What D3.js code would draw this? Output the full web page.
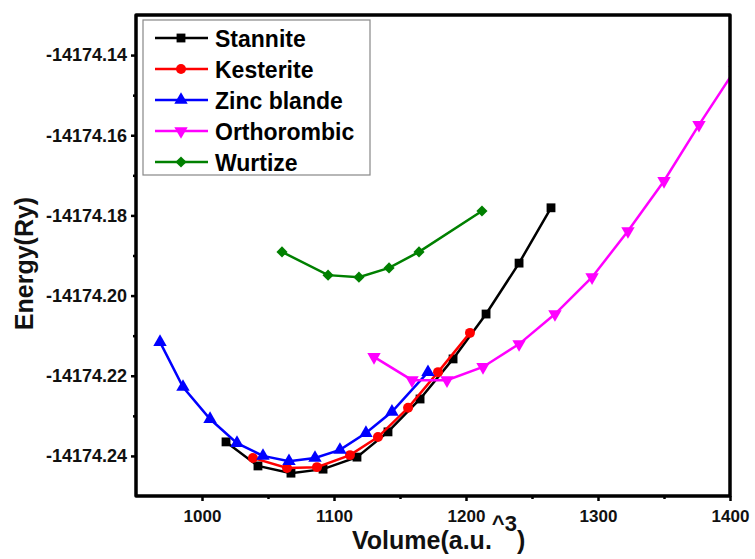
<!DOCTYPE html>
<html><head><meta charset="utf-8">
<script src="https://cdn.jsdelivr.net/npm/d3@7/dist/d3.min.js"></script>
<style>html,body{margin:0;padding:0;background:#fff;}svg{display:block;font-family:"Liberation Sans",Arial,sans-serif;}</style>
</head><body>
<script>
const seriesNames = ["Stannite","Kesterite","Zinc blande","Orthorombic","Wurtize"];
const stanniteV = [1018.2,1042.4,1067.4,1091.7,1117.4,1140.9,1165.2,1190.2,1215.2,1240.2,1264.4];
const stanniteE = [-14174.2365,-14174.2425,-14174.2443,-14174.2433,-14174.2403,-14174.2340,-14174.2258,-14174.2158,-14174.2046,-14174.1919,-14174.1781];
const kesteriteV = [1038.6,1064.4,1087.1,1112.1,1133.3,1156.1,1178.8,1203.0];
const kesteriteE = [-14174.2405,-14174.2430,-14174.2428,-14174.2398,-14174.2353,-14174.2280,-14174.2191,-14174.2093];
const zincV = [968.2,985.6,1006.1,1026.5,1046.2,1065.9,1085.6,1104.5,1124.2,1143.9,1171.2];
const zincE = [-14174.2116,-14174.2228,-14174.2308,-14174.2368,-14174.2400,-14174.2413,-14174.2405,-14174.2385,-14174.2343,-14174.2290,-14174.2191];
const orthoV = [1130.3,1159.1,1185.6,1212.9,1240.2,1267.4,1295.5,1322.7,1350.0,1376.5,1403.8];
const orthoE = [-14174.2153,-14174.2211,-14174.2211,-14174.2178,-14174.2121,-14174.2046,-14174.1954,-14174.1839,-14174.1714,-14174.1574,-14174.1437];
const wurtzV = [1060.6,1095.5,1118.9,1141.7,1164.4,1212.1];
const wurtzE = [-14174.1891,-14174.1949,-14174.1954,-14174.1931,-14174.1891,-14174.1789];
const xTicks = [1000,1100,1200,1300,1400];
const xMinor = [1050,1150,1250,1350];
const yTicks = [-14174.24,-14174.22,-14174.20,-14174.18,-14174.16,-14174.14];
const yMinor = [-14174.23,-14174.21,-14174.19,-14174.17,-14174.15];

const W=755,H=559;
const L=136,R=730,T=15,B=496;
const svg=d3.select("body").append("svg").attr("width",W).attr("height",H);
const x=d3.scaleLinear().domain([950,1400]).range([L,R]);
const y=d3.scaleLinear().domain([-14174.25,-14174.13]).range([B,T]);

const series=[
 {name:seriesNames[0],v:stanniteV,e:stanniteE,color:"#000000",sym:d3.symbolSquare,size:78,rot:0},
 {name:seriesNames[1],v:kesteriteV,e:kesteriteE,color:"#ff0000",sym:d3.symbolCircle,size:78,rot:0},
 {name:seriesNames[2],v:zincV,e:zincE,color:"#0000ff",sym:d3.symbolTriangle,size:78,rot:0},
 {name:seriesNames[3],v:orthoV,e:orthoE,color:"#ff00ff",sym:d3.symbolTriangle,size:78,rot:180},
 {name:seriesNames[4],v:wurtzV,e:wurtzE,color:"#008000",sym:d3.symbolSquare,size:62,rot:45}
];

svg.append("defs").append("clipPath").attr("id","clip").append("rect")
 .attr("x",L).attr("y",T).attr("width",R-L).attr("height",B-T);

const plot=svg.append("g").attr("clip-path","url(#clip)");
const line=d3.line().x(d=>x(d[0])).y(d=>y(d[1]));
series.forEach(s=>{
 const pts=s.v.map((v,i)=>[v,s.e[i]]);
 plot.append("path").attr("d",line(pts)).attr("fill","none").attr("stroke",s.color).attr("stroke-width",2.5);
 plot.selectAll(null).data(pts).enter().append("path")
  .attr("d",d3.symbol().type(s.sym).size(s.size))
  .attr("transform",d=>`translate(${x(d[0])},${y(d[1])}) rotate(${s.rot})`)
  .attr("fill",s.color);
});

// axes
const ax=svg.append("g");
const xAxis=d3.axisBottom(x).tickValues(xTicks).tickSize(5).tickFormat(d3.format("d"));
const gx=ax.append("g").attr("transform",`translate(0,${B})`).call(xAxis);
gx.select(".domain").remove();
gx.selectAll(".tick line").attr("stroke","#000").attr("stroke-width",2.5);
gx.selectAll(".tick text").attr("font-size",17).attr("font-weight","bold").attr("fill","#111").attr("dy","1.05em");
const gxm=ax.append("g").attr("transform",`translate(0,${B})`).call(d3.axisBottom(x).tickValues(xMinor).tickSize(3).tickFormat(""));
gxm.select(".domain").remove();
gxm.selectAll(".tick line").attr("stroke","#000").attr("stroke-width",2.5);

const fmtY=d=>d3.format(".2f")(d).replace("\u2212","-");
const yAxis=d3.axisLeft(y).tickValues(yTicks).tickSize(5).tickFormat(fmtY);
const gy=ax.append("g").attr("transform",`translate(${L},0)`).call(yAxis);
gy.select(".domain").remove();
gy.selectAll(".tick line").attr("stroke","#000").attr("stroke-width",2.5);
gy.selectAll(".tick text").attr("font-size",18).attr("font-weight","bold").attr("fill","#111").attr("dx","-1px");
const gym=ax.append("g").attr("transform",`translate(${L},0)`).call(d3.axisLeft(y).tickValues(yMinor).tickSize(3).tickFormat(""));
gym.select(".domain").remove();
gym.selectAll(".tick line").attr("stroke","#000").attr("stroke-width",2.5);

svg.append("rect").attr("x",L).attr("y",T).attr("width",R-L).attr("height",B-T)
 .attr("fill","none").attr("stroke","#000").attr("stroke-width",3.5).attr("stroke-linejoin","round");

// legend
const lg=svg.append("g");
lg.append("rect").attr("x",143).attr("y",20).attr("width",227).attr("height",155)
 .attr("fill","#fff").attr("stroke","#888").attr("stroke-width",1.2);
series.forEach((s,i)=>{
 const yy=38+i*31;
 lg.append("line").attr("x1",155).attr("x2",208).attr("y1",yy).attr("y2",yy).attr("stroke",s.color).attr("stroke-width",2.5);
 lg.append("path").attr("d",d3.symbol().type(s.sym).size(s.size)).attr("transform",`translate(181,${yy}) rotate(${s.rot})`).attr("fill",s.color);
 lg.append("text").attr("x",215).attr("y",yy+8.5).attr("font-size",23).attr("font-weight","bold").attr("fill","#000").text(s.name);
});

// titles
svg.append("text").attr("transform",`translate(33,${(T+B)/2+8}) rotate(-90)`).attr("text-anchor","middle")
 .attr("font-size",25).attr("font-weight","bold").attr("fill","#111").text("Energy(Ry)");
const xt=svg.append("text").attr("x",352).attr("y",549).attr("font-size",25).attr("font-weight","bold").attr("fill","#111");
xt.append("tspan").text("Volume(a.u.");
xt.append("tspan").attr("dy",-18).attr("font-size",22).text("^3");
xt.append("tspan").attr("dy",18).text(")");
</script>
</body></html>
